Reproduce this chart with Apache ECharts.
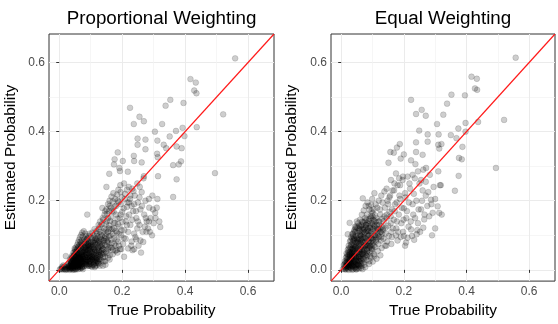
<!DOCTYPE html>
<html><head><meta charset="utf-8">
<script src="https://cdn.jsdelivr.net/npm/echarts@6/dist/echarts.min.js"></script>
<style>html,body{margin:0;padding:0;background:#fff}#c{width:558px;height:324px}</style>
</head><body><div id="c"></div>
<script>
const panelTitles = ['Proportional Weighting', 'Equal Weighting'];
const xAxisTitle = 'True Probability';
const yAxisTitle = 'Estimated Probability';
const axisLimits = [-0.0325, 0.6825];
const majorTicks = [0, 0.2, 0.4, 0.6];
const minorTicks = [0.1, 0.3, 0.5];

// [true probability, estimated probability]
const proportionalPoints = [
[0.002,0.001],[0.005,0.003],[0.008,0.002],[0.010,0.006],[0.012,0.001],[0.015,0.004],[0.018,0.002],[0.020,0.008],[0.022,0.003],[0.025,0.001],
[0.027,0.006],[0.030,0.004],[0.032,0.010],[0.035,0.002],[0.037,0.007],[0.040,0.003],[0.042,0.012],[0.045,0.005],[0.047,0.001],[0.050,0.008],
[0.052,0.003],[0.055,0.011],[0.058,0.006],[0.060,0.002],[0.063,0.009],[0.066,0.004],[0.069,0.013],[0.072,0.007],[0.075,0.002],[0.016,0.010],
[0.028,0.014],[0.038,0.016],[0.048,0.015],[0.058,0.018],[0.033,0.000],[0.043,0.000],[0.053,0.001],[0.020,0.000],[0.009,0.009],[0.013,0.013],[0.021,0.040],
[0.031,0.018],[0.036,0.025],[0.041,0.021],[0.044,0.031],[0.047,0.019],[0.049,0.027],[0.052,0.036],[0.054,0.022],[0.056,0.030],[0.058,0.041],
[0.061,0.025],[0.062,0.034],[0.064,0.047],[0.066,0.020],[0.067,0.038],[0.069,0.029],[0.071,0.052],[0.072,0.016],[0.074,0.043],[0.076,0.033],
[0.077,0.058],[0.079,0.024],[0.081,0.049],[0.082,0.037],[0.084,0.064],[0.085,0.018],[0.087,0.044],[0.088,0.028],[0.090,0.055],[0.091,0.071],
[0.093,0.035],[0.094,0.047],[0.096,0.022],[0.097,0.061],[0.099,0.040],[0.100,0.078],[0.102,0.030],[0.103,0.053],[0.105,0.067],[0.106,0.015],
[0.108,0.045],[0.109,0.084],[0.111,0.036],[0.112,0.059],[0.114,0.025],[0.115,0.072],[0.117,0.048],[0.118,0.090],[0.120,0.033],[0.122,0.063],
[0.123,0.019],[0.125,0.079],[0.127,0.052],[0.128,0.041],[0.130,0.095],[0.132,0.068],[0.134,0.028],[0.136,0.057],[0.138,0.085],[0.140,0.046],
[0.040,0.040],[0.045,0.050],[0.050,0.058],[0.053,0.065],[0.057,0.072],[0.060,0.080],[0.063,0.087],[0.066,0.095],[0.070,0.101],[0.073,0.108],
[0.078,0.112],[0.083,0.105],[0.086,0.097],[0.089,0.089],[0.092,0.082],[0.095,0.075],[0.098,0.069],[0.101,0.062],[0.104,0.038],[0.107,0.027],
[0.110,0.100],[0.113,0.093],[0.116,0.082],[0.119,0.074],[0.121,0.055],[0.124,0.043],[0.126,0.031],[0.129,0.110],[0.131,0.102],[0.133,0.088],
[0.135,0.075],[0.137,0.064],[0.139,0.036],[0.141,0.024],
[0.033,0.012],[0.038,0.020],[0.043,0.013],[0.046,0.024],[0.051,0.016],[0.055,0.028],[0.059,0.014],[0.063,0.021],[0.065,0.033],[0.068,0.012],
[0.070,0.026],[0.073,0.038],[0.075,0.019],[0.078,0.030],[0.080,0.011],[0.083,0.024],[0.086,0.035],[0.089,0.017],[0.092,0.027],[0.095,0.012],
[0.098,0.032],[0.101,0.021],[0.104,0.009],[0.107,0.036],[0.110,0.018],[0.113,0.008],[0.116,0.029],[0.119,0.013],[0.124,0.022],[0.129,0.012],
[0.034,0.030],[0.039,0.035],[0.048,0.040],[0.057,0.050],[0.062,0.058],[0.068,0.064],[0.074,0.070],[0.080,0.075],[0.087,0.066],[0.093,0.057],
[0.044,0.009],[0.071,0.041],[0.058,0.027],[0.093,0.013],[0.037,0.022],[0.082,0.055],[0.066,0.008],[0.104,0.047],[0.051,0.033],[0.117,0.020],
[0.076,0.062],[0.029,0.011],[0.089,0.037],[0.062,0.017],[0.108,0.071],[0.047,0.044],[0.097,0.026],[0.073,0.011],[0.121,0.038],[0.055,0.055],
[0.084,0.081],[0.039,0.007],[0.112,0.052],[0.068,0.032],[0.094,0.064],[0.050,0.021],[0.128,0.030],[0.079,0.045],[0.061,0.068],[0.101,0.011],
[0.043,0.036],[0.087,0.023],[0.115,0.088],[0.070,0.078],[0.056,0.045],[0.099,0.052],[0.034,0.005],[0.078,0.018],[0.124,0.065],[0.064,0.056],
[0.091,0.091],[0.048,0.011],[0.106,0.033],[0.074,0.027],[0.059,0.036],[0.118,0.044],[0.083,0.070],[0.041,0.027],[0.096,0.042],[0.067,0.049],
[0.053,0.009],[0.111,0.063],[0.086,0.015],[0.072,0.085],[0.045,0.017],[0.132,0.049],[0.063,0.039],[0.100,0.095],[0.081,0.032],[0.057,0.061],
[0.119,0.027],[0.092,0.048],[0.069,0.022],[0.049,0.052],[0.107,0.080],[0.077,0.051],[0.036,0.014],[0.126,0.058],[0.088,0.059],[0.060,0.010],
[0.102,0.041],[0.075,0.096],[0.054,0.038],[0.114,0.011],[0.085,0.029],[0.066,0.073],[0.042,0.005],[0.095,0.068],[0.071,0.034],[0.131,0.080],
[0.080,0.088],[0.058,0.023],[0.109,0.024],[0.046,0.030],[0.090,0.076],[0.065,0.027],[0.122,0.097],[0.083,0.043],[0.052,0.047],[0.098,0.017],
[0.140,0.060],[0.145,0.038],[0.136,0.100],[0.142,0.085],[0.148,0.115],[0.150,0.070],[0.139,0.012],[0.146,0.025],[0.152,0.048],[0.144,0.092],
[0.047,0.013],[0.081,0.064],[0.063,0.044],[0.104,0.029],[0.039,0.018],[0.092,0.072],[0.058,0.008],[0.115,0.055],[0.073,0.023],[0.128,0.070],
[0.051,0.041],[0.096,0.017],[0.068,0.061],[0.111,0.044],[0.044,0.026],[0.085,0.051],[0.120,0.086],[0.057,0.019],[0.099,0.080],[0.076,0.040],
[0.035,0.009],[0.088,0.011],[0.062,0.030],[0.107,0.061],[0.070,0.070],[0.125,0.047],[0.054,0.052],[0.093,0.038],[0.079,0.080],[0.041,0.033],
[0.117,0.035],[0.066,0.016],[0.101,0.073],[0.083,0.019],[0.049,0.062],[0.134,0.055],[0.074,0.053],[0.109,0.014],[0.060,0.064],[0.091,0.029],
[0.030,0.008],[0.071,0.006],[0.113,0.078],[0.086,0.088],[0.055,0.017],[0.097,0.057],[0.064,0.035],[0.122,0.025],[0.078,0.066],[0.045,0.040],
[0.103,0.091],[0.069,0.045],[0.130,0.038],[0.082,0.027],[0.059,0.047],[0.094,0.098],[0.050,0.004],[0.116,0.066],[0.087,0.047],[0.067,0.081],
[0.038,0.028],[0.106,0.052],[0.075,0.009],[0.127,0.084],[0.061,0.012],[0.098,0.036],[0.084,0.058],[0.053,0.026],[0.112,0.030],[0.072,0.048],
[0.143,0.050],[0.148,0.090],[0.137,0.070],[0.155,0.035],[0.150,0.105],[0.158,0.120],[0.162,0.065],[0.147,0.015],[0.153,0.080],[0.141,0.110],
[0.143,0.120],[0.145,0.072],[0.147,0.097],[0.149,0.053],[0.151,0.140],[0.153,0.085],[0.155,0.110],[0.157,0.064],[0.159,0.129],[0.161,0.043],
[0.163,0.100],[0.165,0.152],[0.167,0.077],[0.169,0.118],[0.171,0.058],[0.173,0.168],[0.175,0.092],[0.177,0.136],[0.179,0.070],[0.181,0.185],
[0.183,0.108],[0.185,0.148],[0.187,0.082],[0.189,0.196],[0.191,0.125],[0.193,0.060],[0.195,0.160],[0.197,0.100],[0.199,0.210],[0.201,0.139],
[0.203,0.075],[0.205,0.178],[0.207,0.115],[0.209,0.220],[0.211,0.090],[0.213,0.155],[0.215,0.130],[0.217,0.195],[0.219,0.062],[0.221,0.240],
[0.120,0.105],[0.125,0.118],[0.130,0.125],[0.135,0.132],[0.140,0.145],[0.144,0.160],[0.150,0.175],[0.155,0.190],[0.160,0.200],[0.166,0.212],
[0.172,0.222],[0.178,0.205],[0.184,0.218],[0.188,0.232],[0.194,0.245],[0.152,0.162],[0.158,0.170],[0.164,0.180],[0.137,0.179],
[0.158,0.098],[0.166,0.064],[0.174,0.120],[0.162,0.142],[0.183,0.088],[0.170,0.104],[0.192,0.150],[0.178,0.055],[0.187,0.132],[0.168,0.170],
[0.198,0.115],[0.176,0.183],[0.205,0.092],[0.186,0.200],[0.212,0.140],[0.195,0.225],[0.181,0.160],[0.208,0.205],[0.200,0.168],[0.215,0.182],
[0.190,0.070],[0.173,0.135],[0.163,0.118],[0.156,0.080],[0.148,0.132],[0.155,0.150],[0.180,0.112],[0.196,0.190],[0.206,0.250],[0.215,0.232],
[0.130,0.140],[0.125,0.130],[0.118,0.112],[0.112,0.118],[0.138,0.150],[0.146,0.170],[0.160,0.185],[0.170,0.198],[0.105,0.108],[0.097,0.105],
[0.127,0.018],[0.135,0.045],[0.160,0.030],[0.170,0.045],[0.185,0.050],[0.197,0.060],[0.155,0.060],[0.165,0.088],[0.175,0.075],[0.190,0.105],
[0.225,0.205],[0.230,0.185],[0.235,0.170],[0.240,0.215],[0.245,0.150],[0.250,0.195],[0.255,0.130],[0.258,0.175],[0.262,0.225],[0.265,0.110],
[0.270,0.160],[0.274,0.200],[0.278,0.140],[0.282,0.120],[0.286,0.180],[0.290,0.150],[0.295,0.100],[0.300,0.135],[0.305,0.165],[0.312,0.205],
[0.318,0.140],[0.230,0.082],[0.238,0.060],[0.245,0.088],[0.252,0.070],[0.260,0.050],[0.238,0.105],[0.226,0.130],[0.222,0.160],
[0.232,0.235],[0.248,0.250],[0.256,0.240],[0.268,0.265],[0.285,0.205],[0.296,0.215],[0.310,0.180],[0.182,0.057],[0.206,0.038],[0.233,0.057],
[0.267,0.081],[0.277,0.110],
[0.226,0.215],[0.238,0.190],[0.232,0.145],[0.244,0.170],[0.255,0.210],[0.263,0.185],[0.275,0.150],[0.248,0.120],[0.242,0.095],[0.229,0.070],
[0.285,0.140],[0.298,0.175],[0.306,0.150],[0.258,0.085],[0.250,0.140],[0.272,0.125],[0.288,0.110],[0.236,0.228],[0.222,0.195],[0.219,0.110],
[0.559,0.612],[0.417,0.552],[0.434,0.542],[0.429,0.519],[0.436,0.511],[0.521,0.450],[0.225,0.469],[0.353,0.492],[0.338,0.475],[0.395,0.483],
[0.255,0.443],[0.269,0.430],[0.237,0.422],[0.327,0.422],[0.304,0.400],[0.392,0.411],[0.437,0.413],[0.371,0.402],[0.398,0.387],[0.351,0.386],
[0.249,0.380],[0.312,0.374],[0.274,0.377],[0.332,0.362],[0.249,0.362],[0.373,0.357],[0.340,0.352],[0.389,0.352],[0.274,0.349],[0.186,0.340],
[0.311,0.336],[0.237,0.330],[0.313,0.326],[0.202,0.315],[0.387,0.314],[0.238,0.315],[0.176,0.320],[0.262,0.311],[0.380,0.305],[0.362,0.303],
[0.174,0.305],[0.191,0.295],[0.193,0.286],[0.159,0.278],[0.218,0.284],[0.495,0.280],[0.269,0.271],[0.373,0.262],[0.314,0.271],[0.150,0.240],
[0.362,0.211],[0.089,0.160],[0.321,0.124]
];

const equalPoints = [
[0.005,0.002],[0.010,0.008],[0.014,0.004],[0.018,0.012],[0.020,0.020],[0.022,0.003],[0.025,0.015],[0.027,0.027],[0.029,0.007],[0.031,0.022],
[0.033,0.035],[0.035,0.011],[0.037,0.030],[0.039,0.002],[0.041,0.018],[0.043,0.042],[0.045,0.026],[0.047,0.009],[0.049,0.034],[0.051,0.050],
[0.053,0.016],[0.055,0.040],[0.057,0.004],[0.059,0.025],[0.061,0.058],[0.063,0.032],[0.065,0.012],[0.067,0.046],[0.069,0.065],[0.071,0.021],
[0.073,0.054],[0.075,0.037],[0.077,0.008],[0.079,0.072],[0.081,0.028],[0.083,0.061],[0.085,0.044],[0.087,0.083],[0.089,0.017],[0.091,0.052],
[0.093,0.070],[0.095,0.035],[0.097,0.092],[0.099,0.060],[0.101,0.024],[0.103,0.079],[0.105,0.045],[0.107,0.100],[0.109,0.066],[0.111,0.087],
[0.113,0.032],[0.115,0.110],[0.117,0.055],[0.119,0.075],[0.121,0.096],[0.123,0.120],[0.125,0.042],[0.127,0.085],[0.129,0.063],[0.131,0.105],
[0.012,0.025],[0.015,0.035],[0.017,0.048],[0.019,0.030],[0.021,0.058],[0.023,0.042],[0.024,0.070],[0.026,0.050],[0.028,0.082],[0.030,0.061],
[0.032,0.095],[0.034,0.074],[0.036,0.103],[0.038,0.056],[0.040,0.088],[0.042,0.115],[0.044,0.068],[0.046,0.098],[0.048,0.125],[0.050,0.080],
[0.052,0.108],[0.054,0.135],[0.056,0.090],[0.058,0.118],[0.060,0.145],[0.062,0.100],[0.064,0.128],[0.066,0.160],[0.068,0.110],[0.070,0.138],
[0.072,0.172],[0.074,0.120],[0.076,0.150],[0.078,0.185],[0.080,0.130],[0.082,0.160],[0.084,0.195],[0.086,0.112],[0.088,0.142],[0.090,0.175],
[0.092,0.122],[0.094,0.155],[0.096,0.188],[0.098,0.135],[0.100,0.165],[0.102,0.145],[0.104,0.175],[0.106,0.128],[0.108,0.158],[0.110,0.140],
[0.008,0.014],[0.013,0.020],[0.016,0.006],[0.019,0.024],[0.023,0.010],[0.026,0.033],[0.030,0.016],[0.034,0.044],[0.038,0.021],[0.042,0.052],
[0.046,0.038],[0.050,0.062],[0.054,0.028],[0.058,0.075],[0.062,0.045],[0.066,0.085],[0.070,0.050],[0.074,0.095],[0.078,0.060],[0.082,0.105],
[0.086,0.070],[0.090,0.112],[0.094,0.080],[0.098,0.118],[0.102,0.088],[0.106,0.125],[0.110,0.095],[0.114,0.130],[0.118,0.102],[0.122,0.140],
[0.126,0.110],[0.130,0.148],[0.134,0.115],[0.138,0.155],[0.142,0.122],[0.146,0.160],[0.150,0.128],[0.154,0.168],[0.158,0.135],[0.162,0.175],
[0.015,0.001],[0.024,0.000],[0.032,0.004],[0.040,0.009],[0.048,0.001],[0.056,0.013],[0.064,0.006],[0.011,0.016],[0.028,0.045],[0.036,0.062],
[0.018,0.038],[0.043,0.021],[0.029,0.052],[0.061,0.033],[0.037,0.079],[0.054,0.063],[0.022,0.015],[0.071,0.094],[0.047,0.047],[0.083,0.072],
[0.033,0.026],[0.066,0.118],[0.051,0.092],[0.024,0.062],[0.078,0.043],[0.041,0.110],[0.058,0.010],[0.092,0.101],[0.035,0.041],[0.069,0.080],
[0.046,0.015],[0.087,0.133],[0.027,0.008],[0.063,0.066],[0.052,0.121],[0.099,0.084],[0.039,0.069],[0.075,0.108],[0.020,0.045],[0.056,0.036],
[0.095,0.150],[0.044,0.088],[0.081,0.050],[0.031,0.018],[0.067,0.140],[0.108,0.113],[0.049,0.025],[0.073,0.031],[0.038,0.097],[0.089,0.064],
[0.060,0.101],[0.026,0.040],[0.102,0.132],[0.055,0.071],[0.079,0.123],[0.042,0.030],[0.064,0.019],[0.116,0.092],[0.034,0.058],[0.085,0.097],
[0.050,0.140],[0.072,0.058],[0.016,0.022],[0.097,0.170],[0.058,0.052],[0.112,0.150],[0.040,0.050],[0.076,0.082],[0.030,0.085],[0.063,0.090],
[0.048,0.068],[0.093,0.040],[0.070,0.122],[0.036,0.011],[0.084,0.115],[0.053,0.082],[0.121,0.130],[0.045,0.110],[0.068,0.045],[0.100,0.100],
[0.025,0.028],[0.080,0.145],[0.057,0.128],[0.104,0.070],[0.039,0.060],[0.090,0.088],[0.062,0.078],[0.118,0.118],[0.047,0.003],[0.074,0.068],
[0.011,0.002],[0.019,0.009],[0.028,0.019],[0.035,0.000],[0.044,0.006],[0.052,0.004],[0.060,0.018],[0.068,0.002],[0.031,0.031],[0.024,0.010],
[0.056,0.024],[0.041,0.040],[0.065,0.028],[0.049,0.014],[0.037,0.048],[0.074,0.015],[0.082,0.040],[0.090,0.025],[0.098,0.055],[0.106,0.040],
[0.021,0.032],[0.055,0.085],[0.038,0.014],[0.072,0.103],[0.029,0.065],[0.063,0.040],[0.046,0.120],[0.088,0.078],[0.033,0.047],[0.079,0.130],
[0.051,0.020],[0.096,0.110],[0.026,0.021],[0.067,0.072],[0.043,0.060],[0.105,0.142],[0.059,0.113],[0.083,0.055],[0.035,0.090],[0.070,0.033],
[0.048,0.078],[0.114,0.120],[0.017,0.012],[0.091,0.148],[0.061,0.050],[0.040,0.025],[0.076,0.092],[0.053,0.100],[0.099,0.072],[0.031,0.072],
[0.066,0.130],[0.044,0.037],[0.086,0.120],[0.023,0.052],[0.058,0.060],[0.109,0.100],[0.037,0.105],[0.074,0.048],[0.050,0.088],[0.093,0.128],
[0.014,0.010],[0.064,0.098],[0.042,0.072],[0.081,0.088],[0.028,0.035],[0.119,0.140],[0.056,0.046],[0.097,0.062],[0.034,0.052],[0.071,0.115],
[0.047,0.031],[0.088,0.100],[0.060,0.125],[0.039,0.085],[0.078,0.070],[0.125,0.110],[0.052,0.055],[0.102,0.118],[0.032,0.013],[0.069,0.090],
[0.045,0.065],[0.084,0.135],[0.057,0.038],[0.094,0.092],[0.019,0.018],[0.073,0.078],[0.041,0.093],[0.111,0.082],[0.062,0.108],[0.036,0.035],
[0.080,0.112],[0.054,0.015],[0.100,0.155],[0.066,0.058],[0.044,0.125],[0.091,0.068],[0.027,0.044],[0.076,0.140],[0.059,0.082],[0.130,0.125],
[0.135,0.090],[0.140,0.180],[0.144,0.070],[0.148,0.200],[0.152,0.098],[0.156,0.215],[0.160,0.110],[0.164,0.230],[0.168,0.145],[0.172,0.190],
[0.176,0.120],[0.180,0.245],[0.184,0.160],[0.188,0.205],[0.192,0.135],[0.196,0.260],[0.200,0.178],[0.204,0.222],[0.208,0.150],[0.212,0.270],
[0.216,0.195],[0.220,0.235],[0.138,0.227],[0.106,0.222],[0.069,0.207],[0.027,0.136],[0.021,0.103],[0.159,0.260],[0.175,0.279],[0.145,0.150],
[0.125,0.160],[0.115,0.180],[0.132,0.195],[0.170,0.250],[0.185,0.265],
[0.128,0.095],[0.136,0.140],[0.124,0.175],[0.142,0.105],[0.150,0.190],[0.133,0.120],[0.158,0.155],[0.147,0.082],[0.165,0.120],[0.154,0.210],
[0.171,0.170],[0.162,0.095],[0.178,0.140],[0.186,0.215],[0.169,0.230],[0.193,0.180],[0.182,0.110],[0.199,0.145],[0.205,0.210],[0.188,0.245],
[0.210,0.170],[0.218,0.250],[0.197,0.270],[0.177,0.195],[0.120,0.200],[0.110,0.190],[0.128,0.215],[0.099,0.205],[0.088,0.185],[0.145,0.235],
[0.215,0.125],[0.228,0.190],[0.236,0.150],[0.247,0.175],[0.258,0.200],[0.266,0.160],[0.278,0.225],[0.288,0.190],[0.232,0.220],[0.255,0.260],
[0.270,0.255],[0.300,0.205],[0.292,0.165],[0.243,0.115],[0.226,0.098],[0.233,0.087],[0.200,0.098],[0.175,0.100],[0.160,0.075],[0.140,0.070],
[0.223,0.117],[0.212,0.093],[0.207,0.079],[0.287,0.203],[0.308,0.184],[0.313,0.165],[0.281,0.155],[0.265,0.146],[0.245,0.135],[0.230,0.160],
[0.240,0.200],[0.255,0.175],[0.270,0.215],[0.250,0.250],[0.235,0.265],[0.260,0.230],[0.275,0.185],[0.295,0.240],[0.300,0.120],[0.290,0.100],
[0.228,0.275],[0.245,0.285],[0.262,0.290],[0.283,0.275],[0.310,0.285],[0.318,0.245],[0.190,0.095],[0.198,0.110],[0.180,0.085],[0.222,0.140],
[0.252,0.110],[0.204,0.070],[0.241,0.103],[0.262,0.122],
[0.557,0.614],[0.416,0.559],[0.433,0.553],[0.427,0.525],[0.434,0.521],[0.520,0.434],[0.437,0.428],[0.223,0.492],[0.352,0.507],[0.338,0.481],
[0.395,0.505],[0.257,0.463],[0.270,0.446],[0.239,0.451],[0.326,0.449],[0.306,0.422],[0.374,0.409],[0.397,0.425],[0.311,0.392],[0.350,0.390],
[0.368,0.381],[0.397,0.400],[0.249,0.403],[0.276,0.392],[0.276,0.371],[0.310,0.362],[0.320,0.364],[0.387,0.356],[0.239,0.369],[0.178,0.354],
[0.187,0.364],[0.168,0.339],[0.157,0.341],[0.200,0.334],[0.313,0.351],[0.239,0.341],[0.260,0.333],[0.376,0.324],[0.385,0.320],[0.223,0.317],
[0.190,0.322],[0.237,0.306],[0.151,0.310],[0.271,0.295],[0.494,0.295],[0.375,0.272],[0.363,0.229],[0.315,0.245],[0.321,0.160]
];

const FONT = '"Liberation Sans", Arial, Helvetica, sans-serif';
const grids = [
  {left: 49, top: 34, width: 225, height: 250},
  {left: 331, top: 34, width: 224, height: 250}
];
const yNameGaps = [30, 31];

function majorAxis(gi, isX) {
  return {
    type: 'value', gridIndex: gi, min: axisLimits[0], max: axisLimits[1],
    axisLine: {show: false},
    axisTick: {show: true, length: 3, customValues: majorTicks, lineStyle: {color: '#333', width: 1}},
    axisLabel: {customValues: majorTicks, formatter: v => v.toFixed(1), color: '#4d4d4d',
                fontSize: 12, fontFamily: FONT, margin: isX ? 5 : 4},
    splitLine: {show: true, lineStyle: {color: '#ebebeb', width: 1}},
    name: isX ? xAxisTitle : yAxisTitle,
    nameLocation: 'middle',
    nameGap: isX ? 20 : yNameGaps[gi],
    nameTextStyle: {fontSize: 15.5, color: '#000', fontFamily: FONT}
  };
}
function minorAxis(gi) {
  return {
    type: 'value', gridIndex: gi, min: axisLimits[0], max: axisLimits[1],
    axisLine: {show: false},
    axisTick: {show: false, customValues: minorTicks},
    axisLabel: {show: false, customValues: minorTicks},
    splitLine: {show: true, lineStyle: {color: '#f2f2f2', width: 0.7}}
  };
}

const xAxes = [], yAxes = [];
[0, 1].forEach(gi => {
  xAxes.push(majorAxis(gi, true), minorAxis(gi));
  yAxes.push(majorAxis(gi, false), minorAxis(gi));
});

const datasets = [proportionalPoints, equalPoints];
const series = [];
datasets.forEach((pts, gi) => {
  series.push({
    type: 'scatter', xAxisIndex: gi * 2, yAxisIndex: gi * 2, data: pts,
    symbolSize: 5.8, z: 3, silent: true,
    itemStyle: {color: 'rgba(0,0,0,0.24)', borderColor: 'rgba(0,0,0,0.32)', borderWidth: 0.5}
  });
  series.push({
    type: 'line', xAxisIndex: gi * 2, yAxisIndex: gi * 2,
    data: [[axisLimits[0], axisLimits[0]], [axisLimits[1], axisLimits[1]]],
    symbol: 'none', z: 5, silent: true, clip: true,
    lineStyle: {color: '#ff1a1a', width: 1.2}
  });
});

const chart = echarts.init(document.getElementById('c'), null, {renderer: 'canvas'});
chart.setOption({
  animation: false,
  backgroundColor: '#fff',
  grid: grids.map(g => Object.assign({show: true, borderColor: '#333', borderWidth: 1, backgroundColor: '#fff', containLabel: false}, g)),
  xAxis: xAxes,
  yAxis: yAxes,
  graphic: panelTitles.map((t, i) => ({
    type: 'text', x: grids[i].left + grids[i].width / 2, y: 18.5,
    style: {text: t, font: '18.8px ' + FONT, fill: '#000', align: 'center', verticalAlign: 'middle',
            textAlign: 'center', textVerticalAlign: 'middle'}
  })),
  series: series
});
</script>
</body></html>
